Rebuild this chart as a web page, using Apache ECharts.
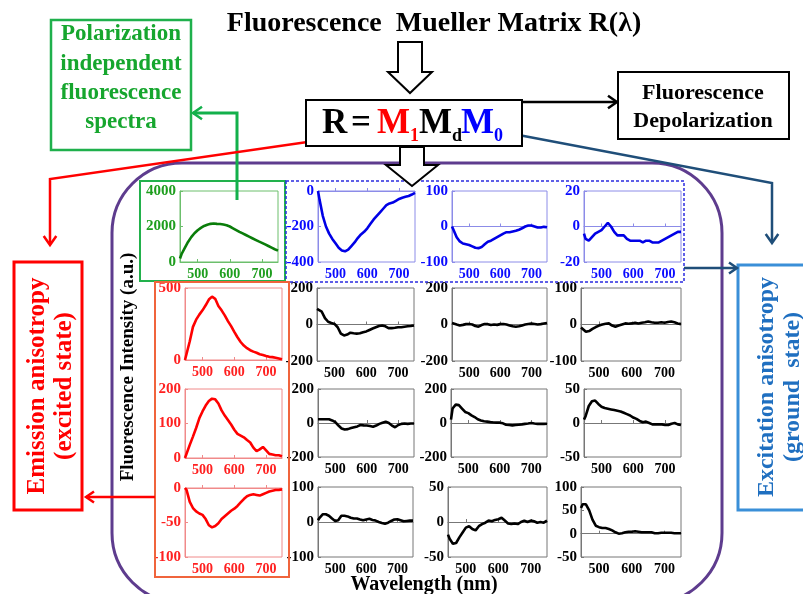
<!DOCTYPE html>
<html><head><meta charset="utf-8">
<script src="https://cdn.jsdelivr.net/npm/echarts@6/dist/echarts.min.js"></script>
<style>html,body{margin:0;padding:0;background:#fff}#c{width:803px;height:594px}</style>
</head><body><div id="c"></div>
<script>
// ---- data ----
const wavelength = [445,450,460,470,480,490,500,510,520,530,540,550,560,570,580,590,600,610,620,630,640,650,660,670,680,690,700,710,720,730,740,750];
const xTicks = [500,600,700];
// row 1
const m00 = [200,450,800,1130,1400,1620,1790,1920,2030,2100,2150,2170,2150,2140,2110,2070,2000,1900,1800,1700,1610,1520,1430,1340,1250,1160,1080,990,900,810,720,640];
const m01 = [0,-50,-140,-200,-240,-270,-295,-320,-335,-340,-330,-310,-290,-265,-245,-230,-210,-185,-160,-140,-120,-100,-80,-70,-65,-55,-45,-38,-33,-28,-20,-10];
const m02 = [0,-10,-30,-42,-48,-50,-52,-56,-60,-61,-58,-50,-43,-40,-35,-30,-25,-20,-16,-16,-14,-12,-9,-5,0,3,3,0,-3,-3,-1,-2];
const m03 = [-4,-7,-8,-6,-4,-3,-2,0,2,0,-3,-5,-5,-5,-7,-8,-8,-8,-8,-9,-8,-8,-9,-9,-9,-8,-7,-6,-5,-4,-3,-3];
// row 2
const m10 = [0,0,130,230,280,315,345,380,420,440,425,375,345,310,270,235,195,158,125,100,82,68,58,50,40,35,28,22,20,15,10,5];
const m11 = [85,80,70,35,15,8,3,-15,-50,-60,-55,-45,-48,-50,-48,-42,-38,-30,-22,-15,-8,-5,-10,-20,-20,-18,-15,-15,-12,-10,-8,-5];
const m12 = [8,5,0,-5,-2,2,3,0,-8,-12,-3,3,2,-3,0,-2,2,3,0,-5,-10,-12,-10,-5,0,3,5,3,0,2,5,8];
const m13 = [-8,-12,-20,-18,-12,-7,-3,0,2,3,-3,-6,-3,0,3,2,3,5,3,5,6,8,6,5,5,6,5,7,8,6,3,1];
// row 3
const m20 = [0,5,38,62,87,115,135,152,165,172,170,158,138,123,110,97,82,70,65,60,52,45,30,20,25,32,22,12,10,8,8,5];
const m21 = [22,22,22,22,22,15,5,-15,-32,-38,-36,-30,-25,-20,-12,-14,-15,-18,-22,-15,-5,2,8,0,-15,-25,-12,-5,-3,-5,-3,-3];
const m22 = [20,85,108,105,85,65,58,45,35,22,15,10,8,5,3,2,2,-2,-10,-12,-14,-12,-10,-8,-5,-3,0,-3,-5,-4,-5,-4];
const m23 = [5,10,25,32,33,28,24,22,21,20,19,18,17,15,13,11,8,6,3,1,2,0,-2,-2,-2,-2,-3,-3,-1,0,-2,-3];
// row 4
const m30 = [0,-3,-20,-29,-34,-37,-39,-45,-54,-57,-55,-51,-45,-41,-37,-33,-30,-26,-21,-16,-12,-10,-9,-10,-11,-9,-7,-5,-4,-3,-3,-2];
const m31 = [5,12,22,22,18,10,3,5,18,18,16,12,10,10,7,5,7,9,6,4,0,-3,-5,-2,3,7,8,5,2,3,4,4];
const m32 = [-18,-24,-31,-30,-22,-15,-8,-6,-10,-12,-6,-3,-1,2,1,3,4,6,2,-2,-3,-2,-3,0,2,0,2,1,-1,0,-1,2];
const m33 = [55,63,63,50,30,17,14,12,12,10,7,3,0,1,3,4,4,5,4,3,3,3,3,1,1,2,2,2,2,1,1,1];

const panelData = [m00,m01,m02,m03,m10,m11,m12,m13,m20,m21,m22,m23,m30,m31,m32,m33];
const yMins = [0,-400,-100,-20, 0,-200,-200,-100, 0,-200,-200,-50, -100,-100,-50,-50];
const yMaxs = [4000,0,100,20, 500,200,200,100, 200,200,200,50, 0,100,50,100];
const yInts = [2000,200,100,20, 500,200,200,100, 100,200,200,50, 50,100,50,50];

// ---- layout / style ----
const FONT = 'Liberation Serif';
const gridBoxes = [
  [180,191,98,71],[318,191,97,71],[452,191,95,71],[584,191,97,71],
  [185,288,97,72],[317,288,97,73],[452,288,95,73],[581,288,100,73],
  [185,389,97,69],[318,389,96,68],[451,389,96,68],[584,389,97,68],
  [185,488,97,69],[318,487,95,70],[448,487,99,70],[581,487,100,70]
];
function kind(i){ if(i===0) return 'g'; if(i<4) return 'b'; if(i%4===0) return 'r'; return 'k'; }
const lineCol = {g:'#0a7d0a', b:'#0000e6', r:'#ff0000', k:'#000000'};
const labCol = {g:'#1e9e1e', b:'#0a0aff', r:'#ff2020', k:'#000000'};
const brdCol = {g:'#6cbf6c', b:'#8c8ce8', r:'#f08a8a', k:'#777777'};
const plain = v => String(v);

const grids=[], xAxes=[], yAxes=[], series=[];
panelData.forEach((d,i)=>{
  const k = kind(i), b = gridBoxes[i];
  grids.push({left:b[0], top:b[1], width:b[2], height:b[3], show:true, borderColor:brdCol[k], borderWidth:1, backgroundColor:'#fff', containLabel:false});
  xAxes.push({type:'value', gridIndex:i, min:445, max:750,
    axisLine:{show:true, lineStyle:{color:brdCol[k]}},
    axisTick:{show:true, inside:true, length:3, customValues:xTicks, lineStyle:{color:brdCol[k]}},
    axisLabel:{customValues:xTicks, formatter:plain, color:labCol[k], fontFamily:FONT, fontWeight:'bold', fontSize:14, margin:5},
    splitLine:{show:false}});
  yAxes.push({type:'value', gridIndex:i, min:yMins[i], max:yMaxs[i], interval:yInts[i],
    axisLine:{show:true, lineStyle:{color:brdCol[k]}},
    axisTick:{show:true, inside:true, length:3, lineStyle:{color:brdCol[k]}},
    axisLabel:{formatter:plain, color:labCol[k], fontFamily:FONT, fontWeight:'bold', fontSize:15, margin:4},
    splitLine:{show:false}});
  series.push({type:'line', xAxisIndex:i, yAxisIndex:i, showSymbol:false, silent:true,
    data: wavelength.map((w,j)=>[w,d[j]]), lineStyle:{color:lineCol[k], width:2.6}, z:5});
});

// ---- graphic helpers ----
function chevron(tx,ty,dx,dy,s,color,w){
  const px=-dy, py=dx;
  return {type:'polyline', z:20, shape:{points:[[tx-s*dx+s*0.7*px, ty-s*dy+s*0.7*py],[tx,ty],[tx-s*dx-s*0.7*px, ty-s*dy-s*0.7*py]]}, style:{stroke:color, lineWidth:w, fill:null}};
}
function pline(pts,color,w,z){ return {type:'polyline', z:z||19, shape:{points:pts}, style:{stroke:color, lineWidth:w, fill:null}}; }
function rect(x,y,w,h,color,lw,extra){ return Object.assign({type:'rect', z:3, shape:{x,y,width:w,height:h}, style:{stroke:color, lineWidth:lw, fill:null}}, extra||{}); }
function txt(x,y,t,size,color,opts){ return Object.assign({type:'text', z:25, x, y, style:Object.assign({text:t, fontFamily:FONT, fontWeight:'bold', fontSize:size, fill:color, align:'center', verticalAlign:'middle'}, (opts&&opts.style)||{})}, (opts&&opts.el)||{}); }
function hollowDown(cx,y0,sw,yh,hw,y1){
  return {type:'polygon', z:22, shape:{points:[[cx-sw,y0],[cx+sw,y0],[cx+sw,yh],[cx+hw,yh],[cx,y1],[cx-hw,yh],[cx-sw,yh]]}, style:{stroke:'#000', lineWidth:2, fill:'#fff'}};
}
const L = {style:{align:'left'}};

const graphics = [
  // big purple rounded frame
  {type:'rect', z:1, shape:{x:112,y:163,width:610,height:440,r:70}, style:{stroke:'#5e3c8e', lineWidth:3, fill:null}},
  // group frames
  rect(140,181,145,100,'#22b14c',2),
  rect(286,181,398,101,'#2b2be0',1.5,{style:{stroke:'#2b2be0', lineWidth:1.5, fill:null, lineDash:[3,2]}}),
  rect(155,282,134,295,'#f0643c',2),
  // title
  txt(434,24,'Fluorescence  Mueller Matrix R(λ)',28,'#000'),
  hollowDown(410,42,12,72,22,93),
  // R box
  rect(306,100,216,46,'#000',2,{z:21, style:{stroke:'#000', lineWidth:2, fill:'#fff'}}),
  txt(322,124,'R',35,'#000',L),
  txt(351,124,'=',35,'#000',L),
  txt(377,124,'M',35,'#ff0000',L),
  txt(410,136,'1',18,'#ff0000',L),
  txt(419,124,'M',35,'#000',L),
  txt(452,136,'d',18,'#000',L),
  txt(461,124,'M',35,'#0000ff',L),
  txt(494,136,'0',18,'#0000ff',L),
  hollowDown(412,147,12,165,26,186),
  // depolarization
  pline([[440,102],[616,102]],'#000',2.5),
  chevron(617,102,1,0,9,'#000',2.5),
  rect(618,72,171,67,'#000',2),
  txt(703,93,'Fluorescence',22,'#000'),
  txt(703,121,'Depolarization',22,'#000'),
  // green box
  rect(51,20,140,130,'#1fb04c',2.5),
  txt(121,34,'Polarization',23,'#16a62e'),
  txt(121,64,'independent',23,'#16a62e'),
  txt(121,93,'fluorescence',23,'#16a62e'),
  txt(121,122,'spectra',23,'#16a62e'),
  pline([[237,200],[237,113],[193,113]],'#13b04b',3),
  chevron(193,113,-1,0,9,'#13b04b',2.5),
  // red emission
  pline([[377,132],[50,179],[50,243]],'#ff0000',2.5),
  chevron(50,245,0,1,9,'#ff0000',2.5),
  rect(14,262,68,248,'#ff0000',3),
  txt(38,386,'Emission anisotropy',25,'#ff0000',{el:{rotation:Math.PI/2}}),
  txt(65,386,'(excited state)',25,'#ff0000',{el:{rotation:Math.PI/2}}),
  pline([[155,497],[86,497]],'#ff0000',2.5),
  chevron(86,497,-1,0,8,'#ff0000',2.5),
  // blue excitation
  pline([[508,133],[772,183],[772,241]],'#1f4e79',2.5),
  chevron(772,243,0,1,9,'#1f4e79',2.5),
  rect(738,265,70,245,'#3a8fd8',3),
  txt(767,387,'Excitation anisotropy',24,'#1f6fc0',{el:{rotation:Math.PI/2}}),
  txt(793,387,'(ground  state)',24,'#1f6fc0',{el:{rotation:Math.PI/2}}),
  pline([[684,268],[736,268]],'#1f4e79',2.5),
  chevron(737,268,1,0,8,'#1f4e79',2.5),
  // axis titles
  txt(128,367,'Fluorescence Intensity (a.u.)',19,'#000',{el:{rotation:Math.PI/2}}),
  txt(424,585,'Wavelength (nm)',20,'#000')
];

const chart = echarts.init(document.getElementById('c'), null, {renderer:'canvas'});
chart.setOption({
  animation:false,
  backgroundColor:'#fff',
  grid:grids, xAxis:xAxes, yAxis:yAxes, series:series,
  graphic:{elements:graphics}
});
</script></body></html>
